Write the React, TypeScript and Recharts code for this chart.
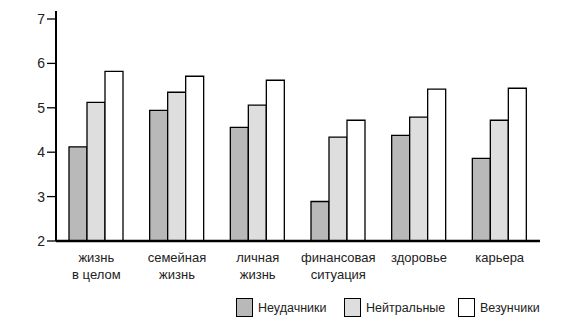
import React from 'react';
import { BarChart, Bar, XAxis, YAxis, Legend } from 'recharts';

const categories = ['жизнь\nв целом', 'семейная\nжизнь', 'личная\nжизнь', 'финансовая\nситуация', 'здоровье', 'карьера'];
const losers = [4.12, 4.94, 4.56, 2.89, 4.38, 3.86];
const neutrals = [5.12, 5.35, 5.06, 4.34, 4.79, 4.72];
const lucky = [5.82, 5.71, 5.62, 4.72, 5.42, 5.44];
const seriesNames = ['Неудачники', 'Нейтральные', 'Везунчики'];
const seriesColors = ['#b9b9b9', '#dedede', '#ffffff'];
const yTicks = [2, 3, 4, 5, 6, 7];

const data = categories.map((c, i) => ({ name: c, a: losers[i], b: neutrals[i], c: lucky[i] }));
const keys = ['a', 'b', 'c'];

const FONT = '"Liberation Sans", Arial, sans-serif';
const legendItemWidths = [108, 114, 100];

const XTick = (props: any) => {
  const { x, y, payload } = props;
  const lines = String(payload.value).split('\n');
  return (
    <text x={x} y={y} textAnchor="middle" fontFamily={FONT} fontSize={13} fill="#222">
      {lines.map((l, i) => (
        <tspan key={i} x={x} dy={i === 0 ? 13 : 16.7}>{l}</tspan>
      ))}
    </text>
  );
};

const LegendContent = () => (
  <div style={{ height: 30, display: 'flex', alignItems: 'flex-start', paddingLeft: 236, fontFamily: FONT, fontSize: 12.5, color: '#222' }}>
    {seriesNames.map((n, i) => (
      <div key={n} style={{ display: 'flex', alignItems: 'center', width: legendItemWidths[i] }}>
        <div style={{ width: 15, height: 17, background: seriesColors[i], border: '1.2px solid #000', marginRight: 5, boxSizing: 'content-box' }} />
        <span>{n}</span>
      </div>
    ))}
  </div>
);

export default function App() {
  return (
    <div style={{ position: 'absolute', left: 0, top: 0, background: '#fff' }}>
      <BarChart width={568} height={328} data={data} margin={{ top: 11, right: 28, left: 0, bottom: 0 }} barGap={0} barSize={18}>
        <XAxis dataKey="name" tick={<XTick />} tickLine={false} axisLine={{ stroke: '#000', strokeWidth: 2.5 }} height={57} interval={0} />
        <YAxis domain={[2, 7.18]} ticks={yTicks} width={56} tickSize={9} tickMargin={2}
          axisLine={{ stroke: '#000', strokeWidth: 2 }} tickLine={{ stroke: '#000', strokeWidth: 1.3 }}
          tick={{ fontFamily: FONT, fontSize: 14, fill: '#222' }} allowDataOverflow />
        <Legend verticalAlign="bottom" height={30} wrapperStyle={{ left: 0, width: 568 }} content={<LegendContent />} />
        {keys.map((k, i) => (
          <Bar key={k} dataKey={k} name={seriesNames[i]} fill={seriesColors[i]} stroke="#000" strokeWidth={1.3} isAnimationActive={false} />
        ))}
      </BarChart>
    </div>
  );
}
